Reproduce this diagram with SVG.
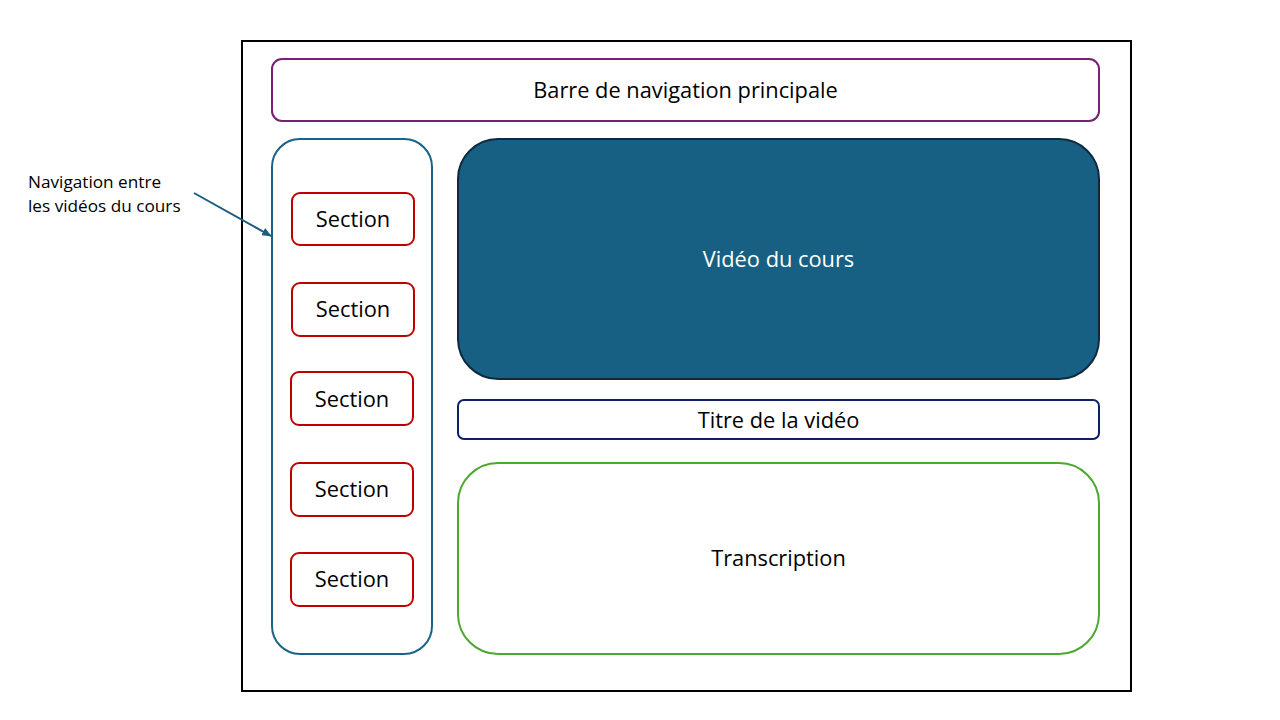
<svg xmlns="http://www.w3.org/2000/svg" width="1280" height="720" viewBox="0 0 1280 720">
<style>
text{font-family:"Open Sans","Liberation Sans",sans-serif;fill:#000;}
.lbl{font-size:21.8px;text-anchor:middle;dominant-baseline:central;}
.sec rect{fill:#fff;stroke:#C00000;stroke-width:2;}
.note{font-size:17.2px;}
</style>
<defs>
<marker id="ah" markerWidth="10" markerHeight="8" refX="9" refY="4" orient="auto" markerUnits="userSpaceOnUse">
<path d="M0,0 L10,4 L0,8 Z" fill="#1B5E80"/>
</marker>
</defs>
<rect width="1280" height="720" fill="#fff"/>
<g id="frame"><rect x="242" y="41" width="889" height="650" fill="none" stroke="#000" stroke-width="2"/></g>
<g id="navbar"><rect x="272" y="59" width="827" height="62" rx="10" fill="#fff" stroke="#782170" stroke-width="2"/><text class="lbl" x="685.5" y="89">Barre de navigation principale</text></g>
<g id="sidebar"><rect x="272" y="139" width="160" height="515" rx="28" fill="#fff" stroke="#1B6385" stroke-width="2"/></g>
<g id="section1" class="sec"><rect x="292" y="193" width="122" height="52" rx="8"/><text class="lbl" x="353" y="218">Section</text></g>
<g id="section2" class="sec"><rect x="292" y="283" width="122" height="53" rx="8"/><text class="lbl" x="353" y="308">Section</text></g>
<g id="section3" class="sec"><rect x="291" y="372" width="122" height="53" rx="8"/><text class="lbl" x="352" y="398">Section</text></g>
<g id="section4" class="sec"><rect x="291" y="463" width="122" height="53" rx="8"/><text class="lbl" x="352" y="488">Section</text></g>
<g id="section5" class="sec"><rect x="291" y="553" width="122" height="53" rx="8"/><text class="lbl" x="352" y="578">Section</text></g>
<g id="video"><rect x="458" y="139" width="641" height="240" rx="40" fill="#176083" stroke="#0E2A3E" stroke-width="2"/><text class="lbl" x="778.5" y="258" style="fill:#fff">Vidéo du cours</text></g>
<g id="title"><rect x="458" y="400" width="641" height="39" rx="6" fill="#fff" stroke="#0E2162" stroke-width="2"/><text class="lbl" x="778.5" y="419">Titre de la vidéo</text></g>
<g id="transcription"><rect x="458" y="463" width="641" height="191" rx="40" fill="#fff" stroke="#4EA72E" stroke-width="2"/><text class="lbl" x="778.5" y="557">Transcription</text></g>
<g id="note"><text class="note" x="28" y="188">Navigation entre</text><text class="note" x="28" y="212">les vidéos du cours</text></g>
<g id="connectors"><line x1="194" y1="193" x2="271" y2="236" stroke="#1B5E80" stroke-width="2" marker-end="url(#ah)"/></g>
</svg>
